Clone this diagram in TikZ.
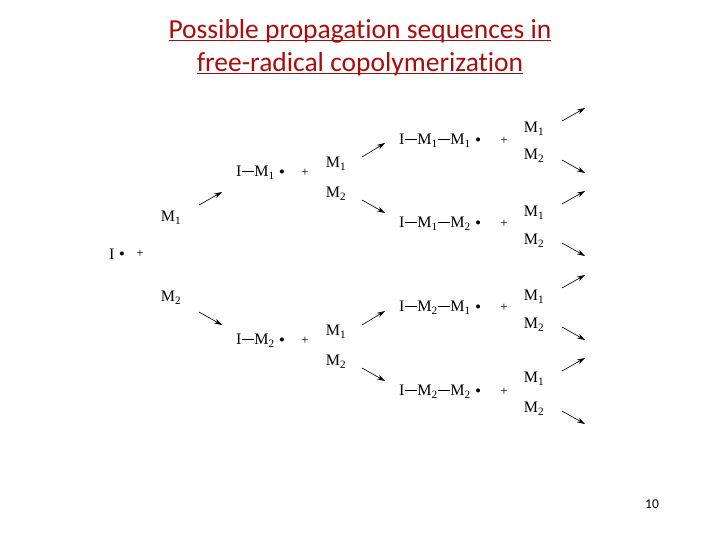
\documentclass[tikz,border=0pt]{standalone}
\usepackage{fontspec}
\setmainfont{Liberation Serif}
\newfontfamily\titlefont[Ligatures=NoCommon]{Carlito}
\usepackage{tikz}
\usetikzlibrary{arrows.meta,positioning}

\definecolor{titlered}{RGB}{170,12,12}
\newcommand{\bnd}{\rule[0.3em]{0.8em}{0.08em}}
\newcommand{\rad}{\hspace{0.3em}\raisebox{0.14em}{\scalebox{0.6}{$\bullet$}}}
\newcommand{\ttl}[1]{\underline{\smash{#1}}}

\begin{document}
\begin{tikzpicture}[x=1pt,y=-1pt,
    chem/.style={font=\fontsize{16}{19}\selectfont,inner sep=0pt},
    mono/.style={font=\fontsize{16}{19}\selectfont,inner sep=0pt},
    plus/.style={font=\fontsize{13}{15}\selectfont,inner sep=0pt},
    arr/.style={-{Stealth[length=8pt,width=5pt]},line width=0.65pt}]
    \useasboundingbox (0,0) rectangle (720,540);
    % title
    \node[font=\titlefont\fontsize{27.5}{33}\selectfont,text=titlered,align=center] (title) at (360,56)
        {\ttl{Possible propagation sequences in}\\\ttl{free-radical copolymerization}};
    \node[font=\titlefont\fontsize{13.5}{15}\selectfont] (page) at (652,504) {10};
    % initiator
    \node[chem,anchor=west] (I) at (109,254) {I\rad};
    \node[plus] (pI) at (140,254) {+};
    \node[mono] (a1) at (171,218) {M\textsubscript{1}};
    \node[mono] (a2) at (171,298) {M\textsubscript{2}};
    % first addition
    \node[chem,anchor=west] (r1) at (236,173) {I\bnd M\textsubscript{1}\rad};
    \node[plus] (p1) at (305,173) {+};
    \node[chem,anchor=west] (r2) at (236,341) {I\bnd M\textsubscript{2}\rad};
    \node[plus] (p2) at (305,341) {+};
    \node[mono] (b11) at (336,164) {M\textsubscript{1}};
    \node[mono] (b12) at (336,194) {M\textsubscript{2}};
    \node[mono] (b21) at (336,332) {M\textsubscript{1}};
    \node[mono] (b22) at (336,362) {M\textsubscript{2}};
    % second addition
    \node[chem,anchor=west] (r11) at (399,141) {I\bnd M\textsubscript{1}\bnd M\textsubscript{1}\rad};
    \node[plus] (p11) at (504,141) {+};
    \node[chem,anchor=west] (r12) at (399,224) {I\bnd M\textsubscript{1}\bnd M\textsubscript{2}\rad};
    \node[plus] (p12) at (504,224) {+};
    \node[chem,anchor=west] (r21) at (399,308) {I\bnd M\textsubscript{2}\bnd M\textsubscript{1}\rad};
    \node[plus] (p21) at (504,308) {+};
    \node[chem,anchor=west] (r22) at (399,392) {I\bnd M\textsubscript{2}\bnd M\textsubscript{2}\rad};
    \node[plus] (p22) at (504,392) {+};
    \node[mono] (c11) at (534,129) {M\textsubscript{1}};
    \node[mono] (c12) at (534,156) {M\textsubscript{2}};
    \node[mono] (c21) at (534,213) {M\textsubscript{1}};
    \node[mono] (c22) at (534,241) {M\textsubscript{2}};
    \node[mono] (c31) at (534,297) {M\textsubscript{1}};
    \node[mono] (c32) at (534,325) {M\textsubscript{2}};
    \node[mono] (c41) at (534,379) {M\textsubscript{1}};
    \node[mono] (c42) at (534,409) {M\textsubscript{2}};
    % arrow ends
    \coordinate (u0s) at (199,205); \coordinate (u0e) at (222,192);
    \coordinate (d0s) at (199,312); \coordinate (d0e) at (222,325);
    \coordinate (u1s) at (362,157); \coordinate (u1e) at (385,143);
    \coordinate (d1s) at (362,200); \coordinate (d1e) at (385,213);
    \coordinate (u2s) at (362,325); \coordinate (u2e) at (385,311);
    \coordinate (d2s) at (362,368); \coordinate (d2e) at (385,381);
    \coordinate (e1s) at (562,121); \coordinate (e1e) at (585,108);
    \coordinate (e2s) at (562,160); \coordinate (e2e) at (585,173);
    \coordinate (e3s) at (562,204); \coordinate (e3e) at (585,191);
    \coordinate (e4s) at (562,243); \coordinate (e4e) at (585,256);
    \coordinate (e5s) at (562,288); \coordinate (e5e) at (585,275);
    \coordinate (e6s) at (562,327); \coordinate (e6e) at (585,340);
    \coordinate (e7s) at (562,371); \coordinate (e7e) at (585,358);
    \coordinate (e8s) at (562,411); \coordinate (e8e) at (585,424);
    \draw[arr] (u0s) -- (u0e);
    \draw[arr] (d0s) -- (d0e);
    \draw[arr] (u1s) -- (u1e);
    \draw[arr] (d1s) -- (d1e);
    \draw[arr] (u2s) -- (u2e);
    \draw[arr] (d2s) -- (d2e);
    \draw[arr] (e1s) -- (e1e);
    \draw[arr] (e2s) -- (e2e);
    \draw[arr] (e3s) -- (e3e);
    \draw[arr] (e4s) -- (e4e);
    \draw[arr] (e5s) -- (e5e);
    \draw[arr] (e6s) -- (e6e);
    \draw[arr] (e7s) -- (e7e);
    \draw[arr] (e8s) -- (e8e);
\end{tikzpicture}
\end{document}
